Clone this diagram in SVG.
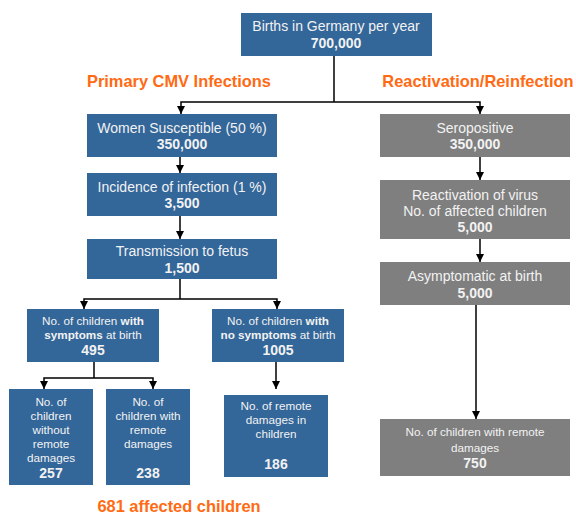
<svg xmlns="http://www.w3.org/2000/svg" width="576" height="513" viewBox="0 0 576 513">
<defs>
<marker id="ah" markerWidth="8" markerHeight="8" refX="8" refY="4" orient="auto" markerUnits="userSpaceOnUse" viewBox="0 0 8 8">
<path d="M0,0 L8,4 L0,8 Z" fill="#000"/>
</marker>
<style>
.b{fill:#336699}
.g{fill:#7f7f7f}
text{font-family:"Liberation Sans",Arial,sans-serif;font-size:14px;fill:#f2f2f2;text-anchor:middle}
.n{font-weight:bold}
.s{font-size:11.7px}
.h{font-weight:bold;font-size:16.4px;fill:#ff6a13}
.c{fill:none;stroke:#000;stroke-width:1.5}
.a{marker-end:url(#ah)}
</style>
</defs>
<rect width="576" height="513" fill="#fff"/>
<g id="connectors">
<polyline class="c" points="334,56 334,102"/>
<polyline class="c a" points="334,102 181,102 181,114"/>
<polyline class="c a" points="334,102 480,102 480,114"/>
<line class="c a" x1="180" y1="157" x2="180" y2="173"/>
<line class="c a" x1="180" y1="216" x2="180" y2="239"/>
<polyline class="c" points="180,279 180,299"/>
<polyline class="c a" points="180,299 84,299 84,309"/>
<polyline class="c a" points="180,299 277,299 277,309"/>
<polyline class="c" points="94,362 94,378"/>
<polyline class="c a" points="94,378 44,378 44,389"/>
<polyline class="c a" points="94,378 153,378 153,389"/>
<line class="c a" x1="276" y1="362" x2="276" y2="389"/>
<line class="c a" x1="480" y1="157" x2="480" y2="180"/>
<line class="c a" x1="480" y1="239" x2="480" y2="262"/>
<line class="c a" x1="476" y1="305" x2="476" y2="419"/>
</g>
<g id="births">
<rect class="b" x="241" y="13" width="191" height="43"/>
<text x="336" y="31">Births in Germany per year</text>
<text class="n" x="336" y="48.3">700,000</text>
</g>
<g id="label-primary"><text class="h" x="179" y="86.5">Primary CMV Infections</text></g>
<g id="label-reactivation"><text class="h" x="478" y="86.5">Reactivation/Reinfection</text></g>
<g id="women">
<rect class="b" x="87" y="114" width="190" height="43"/>
<text x="182" y="133.3">Women Susceptible (50 %)</text>
<text class="n" x="182" y="149.3">350,000</text>
</g>
<g id="incidence">
<rect class="b" x="87" y="173" width="190" height="43"/>
<text x="182" y="191.7">Incidence of infection (1 %)</text>
<text class="n" x="182" y="207.7">3,500</text>
</g>
<g id="transmission">
<rect class="b" x="87" y="239" width="190" height="40"/>
<text x="182" y="256.3">Transmission to fetus</text>
<text class="n" x="182" y="273">1,500</text>
</g>
<g id="with-symptoms">
<rect class="b" x="27" y="309" width="132" height="53"/>
<text class="s" x="93" y="325">No. of children <tspan class="n">with</tspan></text>
<text class="s" x="93" y="339"><tspan class="n">symptoms</tspan> at birth</text>
<text class="n" x="93" y="355">495</text>
</g>
<g id="no-symptoms">
<rect class="b" x="212" y="309" width="132" height="53"/>
<text class="s" x="278" y="325">No. of children <tspan class="n">with</tspan></text>
<text class="s" x="278" y="339"><tspan class="n">no symptoms</tspan> at birth</text>
<text class="n" x="278" y="355">1005</text>
</g>
<g id="without-remote">
<rect class="b" x="9" y="389" width="84" height="96"/>
<text class="s" x="51" y="405.7">No. of</text>
<text class="s" x="51" y="420">children</text>
<text class="s" x="51" y="434">without</text>
<text class="s" x="51" y="448">remote</text>
<text class="s" x="51" y="462">damages</text>
<text class="n" x="51" y="478">257</text>
</g>
<g id="with-remote">
<rect class="b" x="106" y="389" width="84" height="96"/>
<text class="s" x="148" y="405.7">No. of</text>
<text class="s" x="148" y="420">children with</text>
<text class="s" x="148" y="434">remote</text>
<text class="s" x="148" y="448">damages</text>
<text class="n" x="148" y="478">238</text>
</g>
<g id="remote-in-children">
<rect class="b" x="224" y="395" width="104" height="82"/>
<text class="s" x="276" y="410">No. of remote</text>
<text class="s" x="276" y="424">damages in</text>
<text class="s" x="276" y="438">children</text>
<text class="n" x="276" y="469">186</text>
</g>
<g id="label-affected"><text class="h" x="179" y="511.5">681 affected children</text></g>
<g id="seropositive">
<rect class="g" x="380" y="114" width="190" height="43"/>
<text x="475" y="133.3">Seropositive</text>
<text class="n" x="475" y="149.3">350,000</text>
</g>
<g id="reactivation">
<rect class="g" x="380" y="180" width="190" height="59"/>
<text x="475" y="200">Reactivation of virus</text>
<text x="475" y="215.7">No. of affected children</text>
<text class="n" x="475" y="232.3">5,000</text>
</g>
<g id="asymptomatic">
<rect class="g" x="380" y="262" width="190" height="43"/>
<text x="475" y="281">Asymptomatic at birth</text>
<text class="n" x="475" y="297.7">5,000</text>
</g>
<g id="remote-damages">
<rect class="g" x="380" y="419" width="190" height="57"/>
<text class="s" x="475" y="435.5">No. of children with remote</text>
<text class="s" x="475" y="451.5">damages</text>
<text class="n" x="475" y="468.3">750</text>
</g>
</svg>
